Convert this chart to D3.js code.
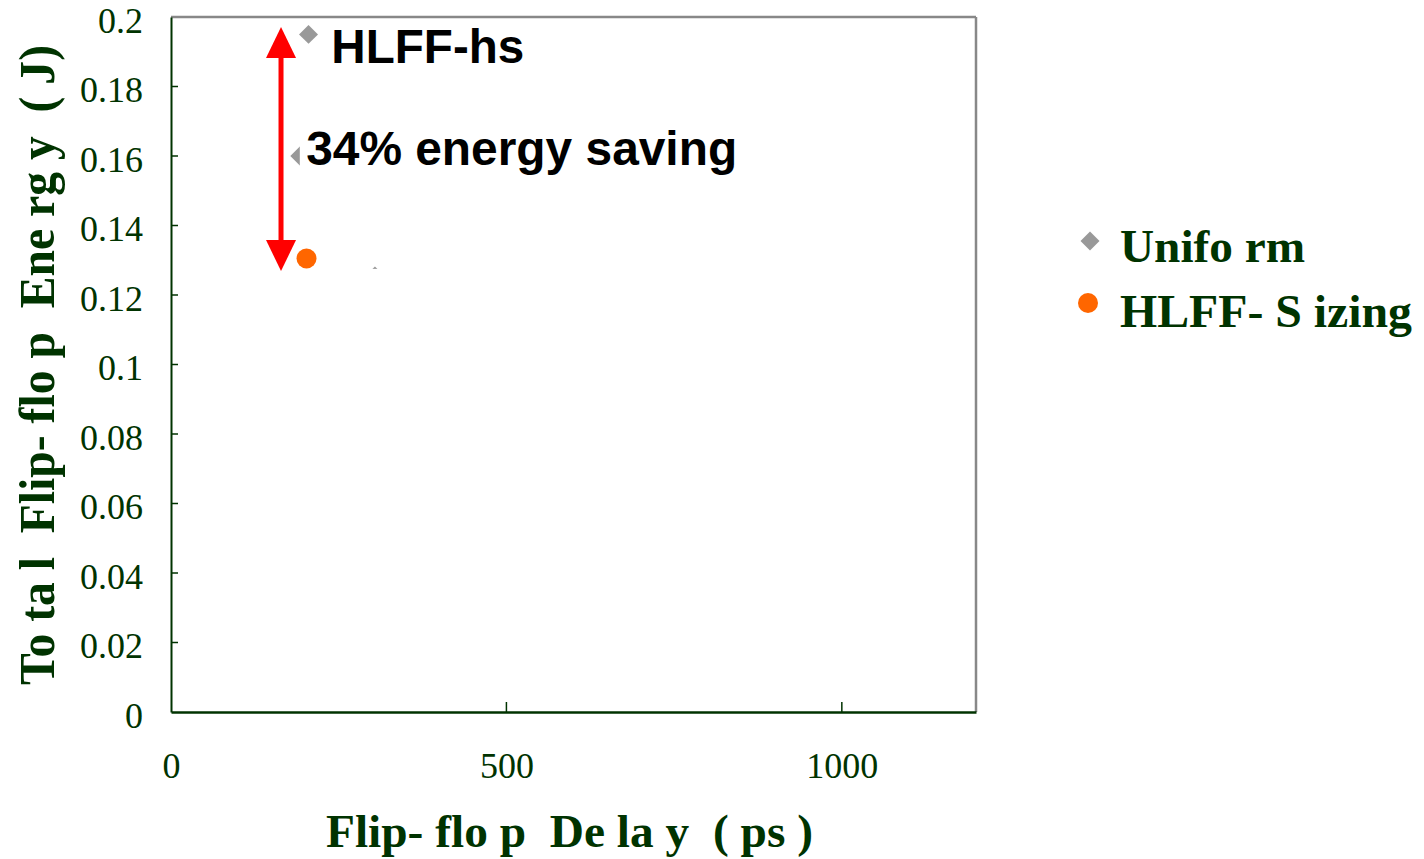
<!DOCTYPE html>
<html><head><meta charset="utf-8">
<script src="https://cdn.jsdelivr.net/npm/d3@7"></script>
<style>body{margin:0;background:#fff}text{white-space:pre}</style>
</head><body>
<svg id="c" width="1424" height="859"></svg>
<script>
const xTicks = [0, 500, 1000];
const yTicks = [0, 0.02, 0.04, 0.06, 0.08, 0.1, 0.12, 0.14, 0.16, 0.18, 0.2];
const yTickLabels = ["0","0.02","0.04","0.06","0.08","0.1","0.12","0.14","0.16","0.18","0.2"];
const uniformDelay = [205, 192, 304];
const uniformEnergy = [0.195, 0.16, 0.1255];
const sizingDelay = [202];
const sizingEnergy = [0.1305];
const seriesNames = ["Unifo rm", "HLFF- S izing"];
const arrowDelay = 164;
const arrowEnergy = [0.1971, 0.1269];
const labelHs = {x: 239, y: 0.1867, text: "HLFF-hs"};
const labelSave = {x: 200, y: 0.1573, text: "34% energy saving"};

const green = "#003300";
const serif = "Liberation Serif, Times New Roman, serif";
const svg = d3.select("#c");
const x = d3.scaleLinear().domain([0, 1200]).range([171, 976]);
const y = d3.scaleLinear().domain([0, 0.2]).range([712, 17]);

// frame
svg.append("line").attr("x1", x(0)).attr("x2", x(1200)).attr("y1", y(0.2)).attr("y2", y(0.2)).attr("stroke", "#888").attr("stroke-width", 2.5);
svg.append("line").attr("x1", x(1200)).attr("x2", x(1200)).attr("y1", y(0.2)).attr("y2", y(0)).attr("stroke", "#888").attr("stroke-width", 2.5);

const yAxis = d3.axisLeft(y).tickValues(yTicks).tickSize(0).tickPadding(28).tickFormat((d, i) => yTickLabels[i]);
const gy = svg.append("g").attr("transform", `translate(${x(0)},0)`).call(yAxis);
gy.select(".domain").attr("stroke", green).attr("stroke-width", 2);
gy.selectAll("text").attr("fill", green).attr("font-family", serif).attr("font-size", 36).attr("dy", 15);
svg.append("g").selectAll("line").data(yTicks.slice(1, -1)).join("line")
  .attr("x1", x(0)).attr("x2", x(0) + 7).attr("y1", d => y(d)).attr("y2", d => y(d)).attr("stroke", green).attr("stroke-width", 1.5);

const xAxis = d3.axisBottom(x).tickValues(xTicks).tickSize(0).tickPadding(40).tickFormat(d3.format("d"));
const gx = svg.append("g").attr("transform", `translate(0,${y(0)})`).call(xAxis);
gx.select(".domain").attr("stroke", green).attr("stroke-width", 2.5);
gx.selectAll("text").attr("fill", green).attr("font-family", serif).attr("font-size", 36);
svg.append("g").selectAll("line").data(xTicks.slice(1)).join("line")
  .attr("x1", d => x(d)).attr("x2", d => x(d)).attr("y1", y(0)).attr("y2", y(0) - 10).attr("stroke", green).attr("stroke-width", 1.5);

// axis titles
svg.append("text").attr("x", 326).attr("y", 847).attr("fill", green)
  .attr("font-family", serif).attr("font-weight", "bold").attr("font-size", 47)
  .attr("textLength", 487).attr("lengthAdjust", "spacingAndGlyphs")
  .text("Flip- flo p  De la y  ( ps )");
svg.append("text").attr("transform", "translate(54,685) rotate(-90)").attr("fill", green)
  .attr("font-family", serif).attr("font-weight", "bold").attr("font-size", 50)
  .attr("textLength", 640).attr("lengthAdjust", "spacingAndGlyphs")
  .text("To ta l  Flip- flo p  Ene rg y  ( J)");

// points
const diamond = d3.symbol().type(d3.symbolDiamond2).size(230);
svg.append("g").selectAll("path").data(uniformDelay.map((d, i) => [d, uniformEnergy[i]])).join("path")
  .attr("d", diamond).attr("transform", d => `translate(${x(d[0])},${y(d[1])})`).attr("fill", "#999999");

// white text boxes (as in the original, partially covering points)
svg.append("rect").attr("x", x(uniformDelay[1])).attr("y", y(labelSave.y) - 40).attr("width", 440).attr("height", 52).attr("fill", "#fff");
svg.append("rect").attr("x", 340).attr("y", y(uniformEnergy[2]) - 7).attr("width", 100).attr("height", 40).attr("fill", "#fff");

svg.append("g").selectAll("circle").data(sizingDelay.map((d, i) => [d, sizingEnergy[i]])).join("circle")
  .attr("cx", d => x(d[0])).attr("cy", d => y(d[1])).attr("r", 10).attr("fill", "#ff6600");

// arrow
const ax = x(arrowDelay), yTop = y(arrowEnergy[0]), yBot = y(arrowEnergy[1]);
svg.append("line").attr("x1", ax).attr("x2", ax).attr("y1", yTop + 25).attr("y2", yBot - 25).attr("stroke", "#ff0000").attr("stroke-width", 5);
svg.append("path").attr("d", `M${ax},${yTop} L${ax - 15},${yTop + 31} L${ax + 15},${yTop + 31} Z`).attr("fill", "#ff0000");
svg.append("path").attr("d", `M${ax},${yBot} L${ax - 15},${yBot - 31} L${ax + 15},${yBot - 31} Z`).attr("fill", "#ff0000");

// annotations
svg.append("text").attr("x", x(labelHs.x)).attr("y", y(labelHs.y)).attr("font-family", "Liberation Sans, Arial, sans-serif")
  .attr("font-weight", "bold").attr("font-size", 48).attr("fill", "#000")
  .attr("textLength", 193).attr("lengthAdjust", "spacingAndGlyphs").text(labelHs.text);
svg.append("text").attr("x", x(labelSave.x) + 1).attr("y", y(labelSave.y)).attr("font-family", "Liberation Sans, Arial, sans-serif")
  .attr("font-weight", "bold").attr("font-size", 48).attr("fill", "#000")
  .attr("textLength", 431).attr("lengthAdjust", "spacingAndGlyphs").text(labelSave.text);

// legend
const leg = svg.append("g");
leg.append("path").attr("d", d3.symbol().type(d3.symbolDiamond2).size(230)).attr("transform", "translate(1090,241)").attr("fill", "#999999");
leg.append("circle").attr("cx", 1088).attr("cy", 303).attr("r", 10).attr("fill", "#ff6600");
const legW = [185, 292];
leg.selectAll("text").data(seriesNames).join("text")
  .attr("x", 1120).attr("y", (d, i) => 262 + i * 65).attr("fill", green)
  .attr("font-family", serif).attr("font-weight", "bold").attr("font-size", 46)
  .attr("textLength", (d, i) => legW[i]).attr("lengthAdjust", "spacingAndGlyphs")
  .text(d => d);
</script>
</body></html>
